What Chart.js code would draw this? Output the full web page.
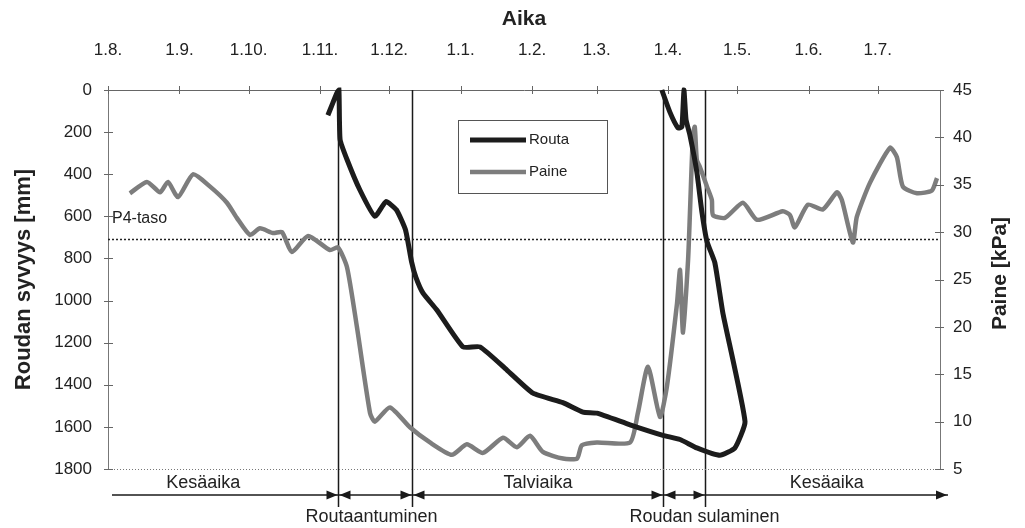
<!DOCTYPE html>
<html>
<head>
<meta charset="utf-8">
<script src="https://cdn.jsdelivr.net/npm/chart.js@4.4.1/dist/chart.umd.min.js"></script>
<style>
  html, body { margin: 0; padding: 0; background: #fff; }
  #wrap { width: 1025px; height: 528px; }
</style>
</head>
<body>
<div id="wrap"><canvas id="myChart"></canvas></div>
<script>
// Aika-akseli: päiviä 1.8. lähtien
const monthDays = [0, 31, 61, 92, 122, 153, 184, 212, 243, 273, 304, 334];
const monthLabels = ["1.8.", "1.9.", "1.10.", "1.11.", "1.12.", "1.1.", "1.2.", "1.3.", "1.4.", "1.5.", "1.6.", "1.7."];
const depthTicks = [0, 200, 400, 600, 800, 1000, 1200, 1400, 1600, 1800];
const pressureTicks = [5, 10, 15, 20, 25, 30, 35, 40, 45];

// Paine [kPa]
const pressureDays = [9.5, 16.9, 22.6, 26.0, 30.4, 36.9, 44.3, 51.6, 55.9, 61.6, 65.9, 71.6, 75.5, 79.8, 86.8, 96.3, 99.8, 103.7, 108.0, 113.7,
  115.8, 122.3, 131.0, 139.7, 149.2, 155.7, 162.7, 171.4, 177.4, 183.1, 188.7, 197.4, 203.5, 205.6, 212.1, 226.5, 229.9, 234.3, 239.5, 242.5,
  246.9, 248.2, 249.5, 251.7, 252.5, 253.8, 254.6, 255.5, 256.8, 259.9, 262.0, 262.5, 267.7, 275.5, 281.6, 292.8, 295.9, 298.0, 303.7, 310.2,
  316.3, 318.4, 323.2, 324.9, 330.6, 339.3, 342.3, 344.9, 351.0, 357.5, 359.7];
const pressureKPa = [34.1, 35.3, 34.2, 35.3, 33.7, 36.1, 34.8, 33.1, 31.5, 29.7, 30.4, 29.9, 30.0, 27.9, 29.6, 28.1, 28.4, 26.3, 20.0, 10.9,
  10.0, 11.5, 9.4, 7.8, 6.5, 7.6, 6.7, 8.3, 7.3, 8.5, 6.8, 6.1, 6.1, 7.5, 7.8, 7.8, 10.9, 15.8, 10.5, 13.7,
  22.5, 26.0, 19.4, 27.1, 32.0, 40.3, 41.1, 37.6, 36.9, 34.8, 33.4, 31.8, 31.5, 33.1, 31.3, 32.2, 31.8, 30.5, 32.9, 32.4,
  34.2, 33.4, 28.9, 31.6, 35.2, 38.9, 37.9, 34.8, 34.1, 34.4, 35.7];

// Routa [mm] (roudan alapinta + sulaminen ylhäältä)
const frostDays = [95.4, 97.6, 99.3, 100.2, 100.7, 103.7, 109.3, 115.8, 120.6, 125.2, 129.1, 131.7, 133.6, 136.7, 142.7, 154.0, 161.4, 173.1, 184.4, 197.4,
  206.1, 212.1, 226.5, 240.8, 248.2, 255.5, 265.5, 272.0, 276.4, 266.8, 263.3, 259.9, 257.7, 255.5, 252.5, 250.8, 249.9, 249.0, 247.3, 243.8, 240.3];
const frostDepth = [120, 60, 15, 0, 235, 330, 475, 600, 530, 570, 665, 815, 890, 965, 1045, 1220, 1220, 1330, 1440, 1485,
  1530, 1535, 1590, 1640, 1660, 1700, 1735, 1700, 1575, 1060, 820, 720, 580, 390, 215, 140, 0, 175, 180, 105, 0];

const p4Depth = 710;
const phaseDays = [100, 132, 241, 259];
const phaseNames = ["Kesäaika", "Routaantuminen", "Talviaika", "Roudan sulaminen", "Kesäaika"];

const FONT = "'Liberation Sans', Arial, sans-serif";
const pts = (xs, ys) => xs.map((d, i) => ({ x: d, y: ys[i] }));

function line(ctx, x1, y1, x2, y2) {
  ctx.beginPath(); ctx.moveTo(x1, y1); ctx.lineTo(x2, y2); ctx.stroke();
}
function head(ctx, tip, yc, dir) {
  ctx.beginPath();
  ctx.moveTo(tip, yc);
  ctx.lineTo(tip - dir * 11, yc - 4.5);
  ctx.lineTo(tip - dir * 11, yc + 4.5);
  ctx.closePath(); ctx.fill();
}

const decor = {
  id: "decor",
  beforeDatasetsDraw(chart) {
    const { ctx, chartArea: a, scales: { x } } = chart;
    ctx.save();
    ctx.strokeStyle = "#1a1a1a"; ctx.lineWidth = 1.5;
    phaseDays.forEach(d => {
      const px = Math.round(x.getPixelForValue(d)) + 0.5;
      line(ctx, px, a.top, px, a.bottom + 38);
    });
    ctx.restore();
  },
  afterDraw(chart) {
    const { ctx, chartArea: a, scales: { x, y, y2 } } = chart;
    ctx.save();
    // alareuna pisteviivana
    ctx.strokeStyle = "#777"; ctx.lineWidth = 1; ctx.setLineDash([1, 2]);
    line(ctx, a.left, a.bottom + 0.5, a.right, a.bottom + 0.5);
    ctx.setLineDash([]);
    // akselien pienet tikit
    ctx.strokeStyle = "#666";
    x.ticks.forEach(t => { const p = Math.round(x.getPixelForValue(t.value)) + 0.5; line(ctx, p, a.top - 4, p, a.top + 4); });
    y.ticks.forEach(t => { const p = Math.round(y.getPixelForValue(t.value)) + 0.5; line(ctx, a.left - 4, p, a.left + 5, p); });
    y2.ticks.forEach(t => { const p = Math.round(y2.getPixelForValue(t.value)) + 0.5; line(ctx, a.right - 5, p, a.right + 4, p); });

    // P4-taso teksti
    ctx.fillStyle = "#222"; ctx.font = "16px " + FONT; ctx.textBaseline = "middle"; ctx.textAlign = "left";
    ctx.fillText("P4-taso", a.left + 4, y.getPixelForValue(p4Depth) - 21);

    // nuolet ja jaksot
    const ay = a.bottom + 26;
    const ends = [a.left + 4, ...phaseDays.map(d => Math.round(x.getPixelForValue(d)) + 0.5), a.right + 8];
    ctx.strokeStyle = "#1a1a1a"; ctx.fillStyle = "#1a1a1a"; ctx.lineWidth = 1.5;
    for (let i = 0; i < ends.length - 1; i++) {
      const s = ends[i], e = ends[i + 1];
      line(ctx, s, ay, e, ay);
      head(ctx, e - 1, ay, 1);
      if (i > 0 && i < ends.length - 2) head(ctx, s + 1, ay, -1);
    }
    const shift = [-22, -4, 0, 20, 0];
    ctx.fillStyle = "#222"; ctx.font = "18px " + FONT; ctx.textAlign = "center";
    phaseNames.forEach((n, i) => {
      const cx = (ends[i] + ends[i + 1]) / 2 + shift[i];
      const cy = i % 2 === 0 ? a.bottom + 14 : a.bottom + 48;
      ctx.fillText(n, cx, cy);
    });

    // selite
    const lx = a.left + 350, ly = a.top + 30, lw = 149, lh = 73;
    ctx.fillStyle = "#fff"; ctx.fillRect(lx, ly, lw, lh);
    ctx.strokeStyle = "#555"; ctx.lineWidth = 1;
    ctx.strokeRect(lx + 0.5, ly + 0.5, lw, lh);
    chart.data.datasets.slice(0, 2).forEach((ds, i) => {
      const yy = ly + 20 + i * 32;
      ctx.strokeStyle = ds.borderColor; ctx.lineWidth = ds.borderWidth;
      line(ctx, lx + 12, yy, lx + 68, yy);
      ctx.fillStyle = "#222"; ctx.font = "15px " + FONT; ctx.textAlign = "left";
      ctx.fillText(ds.label, lx + 71, yy);
    });

    // oikean akselin otsikko
    ctx.save();
    ctx.translate(1000, (a.top + a.bottom) / 2 - 6);
    ctx.rotate(-Math.PI / 2);
    ctx.font = "bold 21px " + FONT; ctx.textAlign = "center"; ctx.fillStyle = "#222";
    ctx.fillText("Paine [kPa]", 0, 0);
    ctx.restore();
    ctx.restore();
  }
};

const ctx = document.getElementById("myChart").getContext("2d");
const chart = new Chart(ctx, {
  type: "line",
  data: {
    datasets: [
      {
        label: "Routa",
        data: pts(frostDays, frostDepth),
        yAxisID: "y",
        borderColor: "#1c1c1c",
        borderWidth: 5,
        tension: 0.15,
        pointRadius: 0,
        clip: false
      },
      {
        label: "Paine",
        data: pts(pressureDays, pressureKPa),
        yAxisID: "y2",
        borderColor: "#7d7d7d",
        borderWidth: 4.5,
        tension: 0.2,
        pointRadius: 0
      },
      {
        label: "P4",
        data: [{ x: 0, y: p4Depth }, { x: 361, y: p4Depth }],
        yAxisID: "y",
        borderColor: "#222",
        borderWidth: 1.5,
        borderDash: [2, 2],
        pointRadius: 0
      }
    ]
  },
  plugins: [decor],
  options: {
    responsive: true,
    maintainAspectRatio: false,
    animation: false,
    layout: { padding: { top: 0, left: 0, right: 0, bottom: 59 } },
    plugins: { legend: { display: false }, tooltip: { enabled: false } },
    scales: {
      x: {
        type: "linear",
        position: "top",
        min: 0,
        max: 361,
        afterBuildTicks: s => { s.ticks = monthDays.map(v => ({ value: v })); },
        afterFit: s => { s.height = 90; },
        grid: { display: false, drawTicks: false },
        border: { color: "#666", width: 1 },
        ticks: {
          autoSkip: false, maxRotation: 0, padding: 29, color: "#222",
          font: { family: FONT, size: 17 },
          callback: v => monthLabels[monthDays.indexOf(v)]
        },
        title: { display: true, text: "Aika", color: "#222", padding: { top: 7 }, font: { family: FONT, size: 21, weight: "bold" } }
      },
      y: {
        type: "linear",
        position: "left",
        reverse: true,
        min: 0,
        max: 1800,
        afterBuildTicks: s => { s.ticks = depthTicks.map(v => ({ value: v })); },
        afterFit: s => { s.width = 108; },
        grid: { display: false, drawTicks: false },
        border: { color: "#777", width: 1 },
        ticks: { padding: 16, color: "#222", font: { family: FONT, size: 17 }, callback: v => String(v) },
        title: { display: true, text: "Roudan syvyys [mm]", color: "#222", padding: { top: 11 }, font: { family: FONT, size: 22, weight: "bold" } }
      },
      y2: {
        type: "linear",
        position: "right",
        min: 5,
        max: 45,
        afterBuildTicks: s => { s.ticks = pressureTicks.map(v => ({ value: v })); },
        afterFit: s => { s.width = 85; },
        grid: { display: false, drawTicks: false },
        border: { color: "#777", width: 1 },
        ticks: { padding: 13, color: "#222", font: { family: FONT, size: 17 }, callback: v => String(v) }
      }
    }
  }
});
</script>
</body>
</html>
